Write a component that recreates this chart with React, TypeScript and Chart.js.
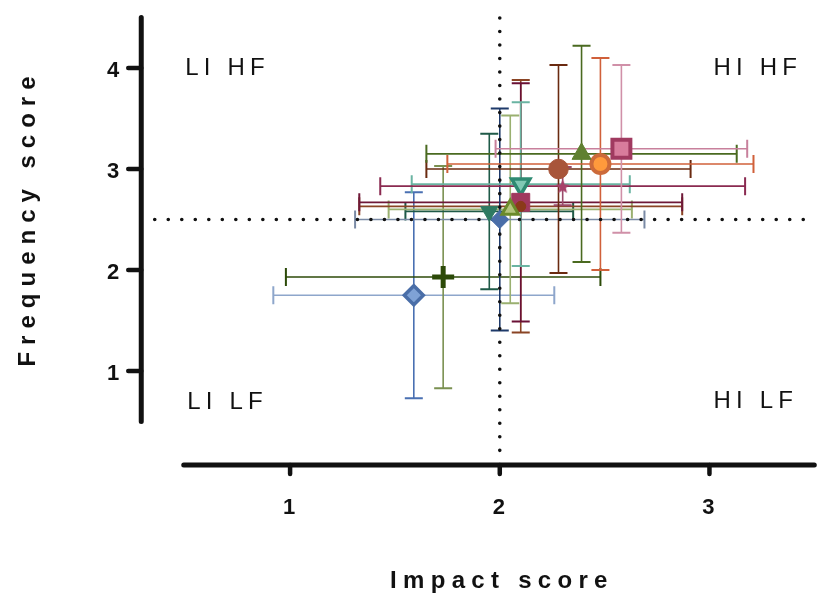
import React, { useEffect, useRef } from 'react';
import { Chart, registerables } from 'chart.js';

Chart.register(...registerables);

// ---------- data ----------
const seriesNames = [
  'Series A', 'Series B', 'Series C', 'Series D', 'Series E', 'Series F', 'Series G',
  'Series H', 'Series I', 'Series J', 'Series K', 'Series L', 'Series M',
];
const impactScores = [1.59, 1.73, 1.95, 2.05, 2.1, 2.1, 2.0, 2.1, 2.3, 2.28, 2.39, 2.48, 2.58];
const frequencyScores = [1.75, 1.93, 2.58, 2.6, 2.63, 2.67, 2.5, 2.85, 2.83, 3.0, 3.15, 3.05, 3.2];
const impactErrors = [0.67, 0.75, 0.4, 0.58, 0.77, 0.77, 0.69, 0.52, 0.87, 0.63, 0.74, 0.73, 0.6];
const frequencyErrors = [1.02, 1.1, 0.77, 0.93, 1.25, 1.18, 1.1, 0.81, 0.19, 1.03, 1.07, 1.05, 0.83];

const xTickValues = [1, 2, 3];
const yTickValues = [1, 2, 3, 4];
const xRange = [0.5, 3.5];
const yRange = [0.5, 4.5];
const referenceImpact = 2;
const referenceFrequency = 2.5;
const quadrantLabels = ['LI HF', 'HI HF', 'LI LF', 'HI LF'];
const xAxisTitle = 'Impact score';
const yAxisTitle = 'Frequency score';

// ---------- styles ----------
function makeStar(size: number, color: string) {
  const c = document.createElement('canvas');
  c.width = size;
  c.height = size;
  const g = c.getContext('2d')!;
  g.fillStyle = color;
  g.beginPath();
  const cx = size / 2, cy = size / 2 + 0.8, R = size / 2, r = R * 0.45;
  for (let i = 0; i < 10; i++) {
    const a = -Math.PI / 2 + (i * Math.PI) / 5;
    const rad = i % 2 ? r : R;
    g.lineTo(cx + rad * Math.cos(a), cy + rad * Math.sin(a));
  }
  g.closePath();
  g.fill();
  return c;
}

type MarkerStyle = {
  shape: any;
  radius: number;
  rotation: number;
  fill: string;
  border: string;
  borderWidth: number;
  xBar: string;
  yBar: string;
};

const markerStyles: MarkerStyle[] = [
  { shape: 'rectRot', radius: 9.5, rotation: 0, fill: '#7fa2d6', border: '#4a6ea8', borderWidth: 3.5, xBar: '#8ea6cb', yBar: '#4a70b2' },
  { shape: 'cross', radius: 11, rotation: 0, fill: '#2c4a08', border: '#2c4a08', borderWidth: 5, xBar: '#2c4a08', yBar: '#7a9050' },
  { shape: 'triangle', radius: 10, rotation: 180, fill: '#2e7a62', border: '#2e7a62', borderWidth: 1, xBar: '#1f5a48', yBar: '#1f5a48' },
  { shape: 'triangle', radius: 9.5, rotation: 0, fill: '#b3c47c', border: '#6b8a2a', borderWidth: 3, xBar: '#9ab070', yBar: '#9ab070' },
  { shape: 'circle', radius: 5, rotation: 0, fill: '#8a3a1a', border: '#8a3a1a', borderWidth: 1, xBar: '#8a4424', yBar: '#8a4424' },
  { shape: 'rect', radius: 12.7, rotation: 0, fill: '#a0385e', border: '#a0385e', borderWidth: 1, xBar: '#6e1838', yBar: '#6a1035' },
  { shape: 'rectRot', radius: 9, rotation: 0, fill: '#4a6ea8', border: '#4a6ea8', borderWidth: 1, xBar: '#7a8aa5', yBar: '#1e3a6a' },
  { shape: 'triangle', radius: 10.5, rotation: 180, fill: '#80c8b4', border: '#2e8a72', borderWidth: 3.5, xBar: '#6ab4a2', yBar: '#6ab4a2' },
  { shape: makeStar(15, '#a8406a'), radius: 7, rotation: 0, fill: '#a8406a', border: '#a8406a', borderWidth: 1, xBar: '#8a2a50', yBar: '#9a4a6a' },
  { shape: 'circle', radius: 9.8, rotation: 0, fill: '#a8553a', border: '#a8553a', borderWidth: 1, xBar: '#6a2a10', yBar: '#6a2a10' },
  { shape: 'triangle', radius: 11, rotation: 0, fill: '#5f8030', border: '#5f8030', borderWidth: 1, xBar: '#4a6a20', yBar: '#4a6a20' },
  { shape: 'circle', radius: 9, rotation: 0, fill: '#ff9a3c', border: '#cc6a3a', borderWidth: 4, xBar: '#d0603a', yBar: '#d0603a' },
  { shape: 'rect', radius: 12.7, rotation: 0, fill: '#d87c9c', border: '#a03a60', borderWidth: 4, xBar: '#c8809c', yBar: '#d090a8' },
];

const FONT = "'Liberation Sans', Arial, Helvetica, sans-serif";
const INK = '#111111';
const CANVAS_W = 831;
const CANVAS_H = 593;

function drawSpacedText(ctx: CanvasRenderingContext2D, text: string, x: number, y: number, spacing: number, align: 'left' | 'center') {
  (ctx as any).letterSpacing = spacing + 'px';
  ctx.textAlign = 'left';
  const w = ctx.measureText(text).width - spacing;
  const sx = align === 'center' ? x - w / 2 : x;
  ctx.fillText(text, sx, y);
  (ctx as any).letterSpacing = '0px';
}

const errorBarPlugin = {
  id: 'errorBars',
  beforeDatasetsDraw(chart: any) {
    const { ctx, scales } = chart;
    const xs = scales.x, ys = scales.y;
    const cap = 9;
    ctx.save();
    ctx.lineCap = 'butt';
    impactScores.forEach((xv, i) => {
      const st = markerStyles[i];
      const px = xs.getPixelForValue(xv);
      const py = ys.getPixelForValue(frequencyScores[i]);
      const x1 = xs.getPixelForValue(xv - impactErrors[i]);
      const x2 = xs.getPixelForValue(xv + impactErrors[i]);
      const y1 = ys.getPixelForValue(frequencyScores[i] + frequencyErrors[i]);
      const y2 = ys.getPixelForValue(frequencyScores[i] - frequencyErrors[i]);
      ctx.strokeStyle = st.xBar;
      ctx.lineWidth = 1.6;
      ctx.beginPath();
      ctx.moveTo(x1, py); ctx.lineTo(x2, py);
      ctx.stroke();
      ctx.lineWidth = 2;
      ctx.beginPath();
      ctx.moveTo(x1, py - cap); ctx.lineTo(x1, py + cap);
      ctx.moveTo(x2, py - cap); ctx.lineTo(x2, py + cap);
      ctx.stroke();
      ctx.strokeStyle = st.yBar;
      ctx.lineWidth = 1.6;
      ctx.beginPath();
      ctx.moveTo(px, y1); ctx.lineTo(px, y2);
      ctx.stroke();
      ctx.lineWidth = 2;
      ctx.beginPath();
      ctx.moveTo(px - cap, y1); ctx.lineTo(px + cap, y1);
      ctx.moveTo(px - cap, y2); ctx.lineTo(px + cap, y2);
      ctx.stroke();
    });

    // dotted reference lines
    const area = chart.chartArea;
    const rx = xs.getPixelForValue(referenceImpact);
    const ry = ys.getPixelForValue(referenceFrequency);
    ctx.strokeStyle = INK;
    ctx.lineWidth = 3.6;
    ctx.lineCap = 'round';
    ctx.setLineDash([0.01, 13.5]);
    ctx.beginPath();
    ctx.moveTo(area.left - 30.5, ry); ctx.lineTo(area.right - 8, ry);
    ctx.stroke();
    ctx.beginPath();
    ctx.moveTo(rx, area.top + 0.5); ctx.lineTo(rx, area.bottom + 34);
    ctx.stroke();
    ctx.restore();
  },
  afterDraw(chart: any) {
    const { ctx, scales, chartArea: area } = chart;
    const xs = scales.x, ys = scales.y;
    ctx.save();
    ctx.strokeStyle = INK;
    ctx.lineCap = 'round';
    ctx.lineWidth = 5;
    // offset axes
    const axisX = area.left - 44;
    const axisY = area.bottom + 43.5;
    ctx.beginPath();
    ctx.moveTo(axisX, ys.getPixelForValue(yRange[1]));
    ctx.lineTo(axisX, ys.getPixelForValue(yRange[0]));
    ctx.moveTo(xs.getPixelForValue(xRange[0]) - 1.5, axisY);
    ctx.lineTo(xs.getPixelForValue(xRange[1]), axisY);
    ctx.stroke();
    ctx.lineWidth = 4.5;
    ctx.beginPath();
    yTickValues.forEach((v) => {
      const p = ys.getPixelForValue(v);
      ctx.moveTo(axisX - 13, p); ctx.lineTo(axisX, p);
    });
    xTickValues.forEach((v) => {
      const p = xs.getPixelForValue(v);
      ctx.moveTo(p, axisY); ctx.lineTo(p, axisY + 9);
    });
    ctx.stroke();

    // tick labels
    ctx.fillStyle = INK;
    ctx.font = `bold 22px ${FONT}`;
    ctx.textBaseline = 'middle';
    ctx.textAlign = 'right';
    yTickValues.forEach((v) => {
      ctx.fillText(String(v), axisX - 22, ys.getPixelForValue(v) + 3);
    });
    ctx.textAlign = 'center';
    xTickValues.forEach((v) => {
      ctx.fillText(String(v), xs.getPixelForValue(v) - 1, axisY + 43);
    });

    // axis titles
    ctx.textBaseline = 'alphabetic';
    ctx.font = `bold 24px ${FONT}`;
    drawSpacedText(ctx, xAxisTitle, (xs.getPixelForValue(xRange[0]) + xs.getPixelForValue(xRange[1])) / 2 - 1, 588, 6.3, 'center');
    ctx.save();
    ctx.translate(35, ys.getPixelForValue((yRange[0] + yRange[1]) / 2) + 2);
    ctx.rotate(-Math.PI / 2);
    drawSpacedText(ctx, yAxisTitle, 0, 0, 7.0, 'center');
    ctx.restore();

    // quadrant labels
    ctx.font = `24px ${FONT}`;
    const qx = [area.left, xs.getPixelForValue(3) + 4, area.left + 2, xs.getPixelForValue(3) + 4];
    const qy = [ys.getPixelForValue(4) + 7, ys.getPixelForValue(4) + 7, ys.getPixelForValue(1) + 38, ys.getPixelForValue(1) + 37];
    quadrantLabels.forEach((t, i) => drawSpacedText(ctx, t, qx[i], qy[i], 5.2, 'left'));
    ctx.restore();
  },
};

export default function App() {
  const canvasRef = useRef<HTMLCanvasElement | null>(null);

  useEffect(() => {
    const canvas = canvasRef.current;
    if (!canvas) return;
    const datasets = seriesNames.map((name, i) => {
      const st = markerStyles[i];
      return {
        label: name,
        data: [{ x: impactScores[i], y: frequencyScores[i] }],
        pointStyle: st.shape,
        pointRadius: st.radius,
        pointHoverRadius: st.radius,
        pointRotation: st.rotation,
        backgroundColor: st.fill,
        borderColor: st.border,
        borderWidth: st.borderWidth,
        showLine: false,
      };
    });
    const chart = new Chart(canvas, {
      type: 'scatter',
      data: { datasets },
      plugins: [errorBarPlugin],
      options: {
        animation: false,
        responsive: false,
        devicePixelRatio: 1,
        layout: { padding: { top: 17.5, right: 3.25, left: 185.25, bottom: 171.5 } },
        plugins: { legend: { display: false }, tooltip: { enabled: false } },
        scales: {
          x: {
            type: 'linear', display: false, min: xRange[0], max: xRange[1],
            ticks: { display: false },
          },
          y: {
            type: 'linear', display: false, min: yRange[0], max: yRange[1],
            ticks: { display: false },
          },
        },
      } as any,
    });
    return () => chart.destroy();
  }, []);

  return (
    <div style={{ position: 'fixed', left: 0, top: 0, width: 817, height: 593, overflow: 'hidden', background: '#ffffff' }}>
      <canvas ref={canvasRef} width={CANVAS_W} height={CANVAS_H} style={{ display: 'block' }} />
    </div>
  );
}
